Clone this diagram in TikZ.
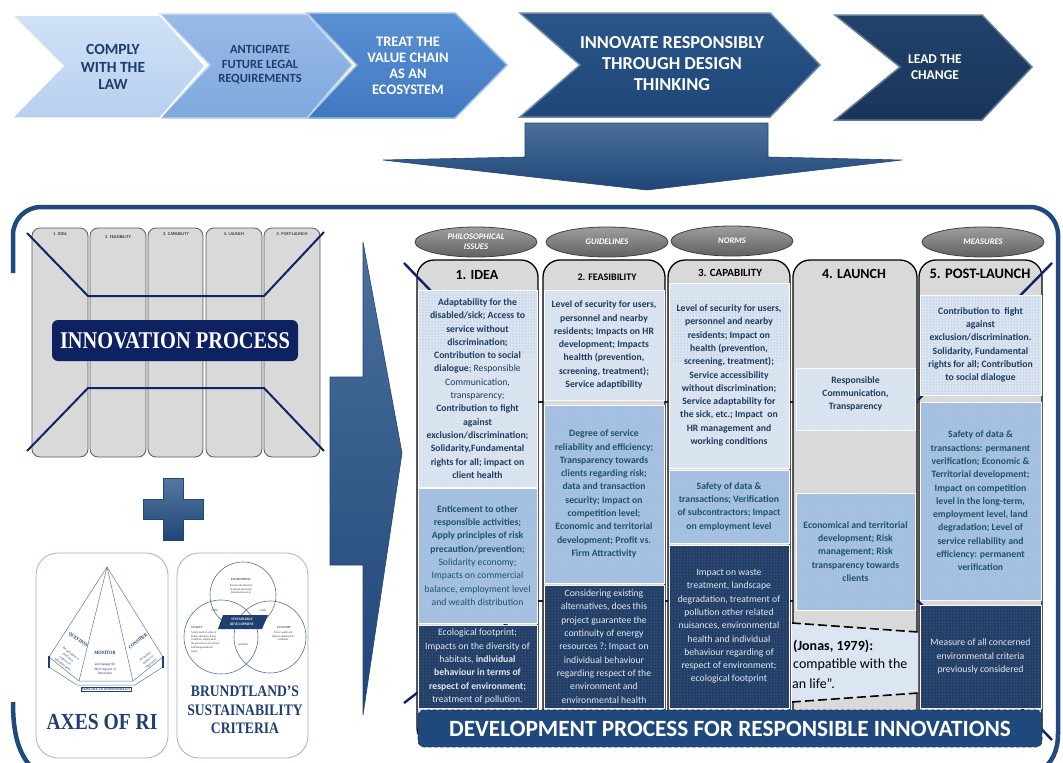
\documentclass[tikz,border=0pt]{standalone}
\usepackage{fontspec}
\setmainfont{Carlito}
\newfontfamily\tnr{Liberation Serif}[FakeStretch=0.85]
\usetikzlibrary{shapes.geometric,patterns}
\definecolor{framec}{HTML}{1F4A7E}
\definecolor{chA}{HTML}{CFE1F6}
\definecolor{chAb}{HTML}{B7D0EE}
\definecolor{chB}{HTML}{98BBE7}
\definecolor{chBb}{HTML}{7FA8DE}
\definecolor{chC}{HTML}{5A90D3}
\definecolor{chCb}{HTML}{4179C1}
\definecolor{chD}{HTML}{2A5689}
\definecolor{chDb}{HTML}{1F4677}
\definecolor{chE}{HTML}{22426C}
\definecolor{chEb}{HTML}{1A3558}
\definecolor{chtxt}{HTML}{1F3D6B}
\definecolor{ipnavy}{HTML}{0E2160}
\definecolor{xnavy}{HTML}{0E2466}
\definecolor{colgray}{HTML}{D9D9D9}
\definecolor{lightfill}{HTML}{DBE5F1}
\definecolor{lightdot}{HTML}{BFCFE4}
\definecolor{lightdot2}{HTML}{9DB3D2}
\definecolor{medfill}{HTML}{A2BEE0}
\definecolor{meddot}{HTML}{CADAEE}
\definecolor{darkfill}{HTML}{223E66}
\definecolor{darkdot}{HTML}{6F87AA}
\definecolor{lighttxt}{HTML}{1F3B5E}
\definecolor{medtxt}{HTML}{1D5565}
\definecolor{darktxt}{HTML}{E3E8F0}
\definecolor{bannerc}{HTML}{1F497D}
\definecolor{rinavy}{HTML}{1F3F73}
\definecolor{thinline}{HTML}{9FB0CC}
\definecolor{callfill}{HTML}{DCE6F2}
\newcommand\cf{\fontsize{9.7}{13.3}\selectfont}
\newcommand\bx[8]{\path[#2] (#4,#5) rectangle (#6,#7); \node[#3] (#1) at ({(#4+#6)/2},{(#5+#7)/2}) {#8};}
\tikzset{
  frame/.style={draw=framec, line width=4.5pt},
  chev/.style={line width=1.5pt, line join=miter},
  chtext/.style={align=center, font=\bfseries, inner sep=0pt},
  colshape/.style={fill=colgray, draw=black, line width=1.3pt, rounded corners=17pt},
  smallcol/.style={fill=colgray, draw=black!65, line width=0.8pt, rounded corners=8pt},
  xline/.style={draw=xnavy, line width=2.4pt},
  lbox/.style={fill=lightfill, draw=white, line width=0.8pt, postaction={pattern=dots, pattern color=lightdot}},
  mbox/.style={fill=medfill, draw=white, line width=0.8pt, postaction={pattern=dots, pattern color=meddot}},
  dbox/.style={fill=darkfill, draw=white, line width=0.8pt, postaction={pattern=dots, pattern color=darkdot}},
  overdots/.style={pattern=dots, pattern color=lightdot2},
  ltxt/.style={align=center, font=\cf, text=lighttxt, inner sep=0pt},
  mtxt/.style={align=center, font=\cf\bfseries, text=medtxt, inner sep=0pt},
  dtxt/.style={align=center, font=\cf, text=darktxt, inner sep=0pt},
  oval/.style={ellipse, minimum width=122pt, minimum height=30pt, top color=black!38, bottom color=black!62, draw=black!75, line width=0.8pt, text=white, align=center, font=\fontsize{8.6}{10}\selectfont\bfseries\itshape, inner sep=0pt},
  hdr/.style={font=\bfseries, text=black, inner sep=0pt},
  tiny/.style={font=\fontsize{4.4}{5}\selectfont\bfseries, text=black!75, inner sep=0pt},
  ttxt/.style={align=center, inner sep=0pt, text=rinavy},
  bigarrow/.style={top color=chD!85!white, bottom color=chDb, draw=chDb, line width=0.6pt}
}
\begin{document}
\begin{tikzpicture}[x=1pt,y=-1pt]
\useasboundingbox (0,0) rectangle (1063,763);
\fill[white] (0,0) rectangle (1063,763);

% ---------- big frame ----------
\draw[frame, rounded corners=28pt] (13,273) -- (13,207) -- (1058,207) -- (1058,734);
\draw[frame] (1058,733) .. controls (1058,752) and (1052,762) .. (1040,772);
\draw[frame] (13,702) .. controls (13,738) and (20,756) .. (34,770);

% ---------- top chevrons ----------
\path[chev, top color=chE, bottom color=chEb, draw=chE!70!white] (835,15) -- (982,15) -- (1032,67) -- (982,120) -- (835,120) -- (900,67) -- cycle;
\path[chev, top color=chD, bottom color=chDb, draw=chD!70!white] (520,13) -- (770,13) -- (820,65) -- (770,117) -- (520,117) -- (580,65) -- cycle;
\path[chev, top color=chC, bottom color=chCb, draw=chC!60!white] (307,13) -- (455,13) -- (507,65) -- (455,118) -- (307,118) -- (357,65) -- cycle;
\path[chev, top color=chB, bottom color=chBb, draw=chB!60!white] (160,14) -- (307,14) -- (352,65) -- (307,118) -- (160,118) -- (210,65) -- cycle;
\path[chev, top color=chA, bottom color=chAb, draw=white] (12,15) -- (160,15) -- (205,66) -- (160,118) -- (12,118) -- (63,66) -- cycle;

\node[chtext, text=chtxt, font=\fontsize{15.5}{17.5}\selectfont\bfseries] (c1) at (113,67) {COMPLY\\WITH THE\\LAW};
\node[chtext, text=chtxt, font=\fontsize{12.5}{14.5}\selectfont\bfseries] (c2) at (260,65) {ANTICIPATE\\FUTURE LEGAL\\REQUIREMENTS};
\node[chtext, text=white, font=\fontsize{14.5}{16}\selectfont\bfseries] (c3) at (408,65.5) {TREAT THE\\VALUE CHAIN\\AS AN\\ECOSYSTEM};
\node[chtext, text=white, font=\fontsize{18.3}{21}\selectfont\bfseries] (c4) at (672,64) {INNOVATE RESPONSIBLY\\THROUGH DESIGN\\THINKING};
\node[chtext, text=white, font=\fontsize{13.5}{16}\selectfont\bfseries] (c5) at (935,67.5) {LEAD THE\\CHANGE};

% down arrow
\path[bigarrow] (525,123) -- (768,123) -- (768,157) -- (902,160) -- (647,190) -- (383,160) -- (525,157) -- cycle;

% ---------- left innovation process ----------
\foreach \a/\b in {32/88,90/146,148/203,206/262,264/320}{
  \path[smallcol] (\a,228) rectangle (\b,457);
}
\node[tiny] (s1) at (60,234) {1. IDEA};
\node[tiny] (s2) at (118,237) {2. FEASIBILITY};
\node[tiny] (s3) at (176,234) {3. CAPABILITY};
\node[tiny] (s4) at (234,234) {4. LAUNCH};
\node[tiny] (s5) at (292,234) {5. POST-LAUNCH};
\draw[xline, line width=2pt] (27,233) -- (88,296) -- (264,296) -- (324,232);
\draw[xline, line width=2pt] (27,451) -- (88,388) -- (264,388) -- (324,451);
\node[fill=ipnavy, rounded corners=6pt, minimum width=246pt, minimum height=41pt, inner sep=0pt, text=white, font=\tnr\bfseries\fontsize{24}{26}\selectfont] (ip) at (175,340.5) {INNOVATION PROCESS};

% plus sign
\path[top color=chD!80!white, bottom color=chDb, draw=chDb, line width=0.6pt]
  (163,478) -- (183,478) -- (183,499) -- (203,499) -- (203,519) -- (183,519) -- (183,540) -- (163,540) -- (163,519) -- (143,519) -- (143,499) -- (163,499) -- cycle;

% ---------- bottom-left boxes ----------
\draw[thinline, line width=0.8pt, fill=white, rounded corners=22pt] (36,553) rectangle (168,758);
\draw[thinline, line width=0.8pt, fill=white, rounded corners=22pt] (177,553) rectangle (308,758);

% pyramid
\begin{scope}[draw=rinavy!70, line width=0.5pt]
\draw (107,567) -- (49,657);
\draw (107,567) -- (79,681);
\draw (107,567) -- (133,681);
\draw (107,567) -- (163,657);
\draw (49,657) -- (79,681) -- (133,681) -- (163,657);
\draw (49,667) -- (77,685) -- (135,685) -- (163,667);
\end{scope}
\draw[rinavy, line width=1.4pt] (49,656) -- (49,668);
\draw[rinavy, line width=1.4pt] (163,656) -- (163,668);
\node[ttxt, rotate=-37, font=\tnr\bfseries\fontsize{5}{6}\selectfont] (pq) at (78,640) {QUESTION};
\node[ttxt, rotate=-37, font=\tnr\fontsize{3.5}{4.6}\selectfont] (pqt) at (67,659) {the usefulness to\\develop in\\response to\\individual needs};
\node[ttxt, font=\tnr\bfseries\fontsize{5}{6}\selectfont] (pm) at (105,653) {MONITOR};
\node[ttxt, font=\tnr\fontsize{3.8}{4.6}\selectfont] (pmt) at (105,669) {and manage the\\direct impacts of\\innovation};
\node[ttxt, rotate=37, font=\tnr\bfseries\fontsize{5}{6}\selectfont] (pc) at (138,641) {CONSIDER};
\node[ttxt, rotate=37, font=\tnr\fontsize{3.5}{4.6}\selectfont] (pct) at (148,660) {the indirect\\impacts of\\innovation};
\node[ttxt, draw=rinavy, line width=0.4pt, inner sep=0.8pt, font=\tnr\bfseries\fontsize{3.6}{4}\selectfont] (pr) at (106,689) {PRINCIPLE OF RESPONSIBILITY};
\node[ttxt, font=\tnr\bfseries\fontsize{23}{25}\selectfont] (axes) at (102,722) {AXES OF RI};

% Venn
\begin{scope}[draw=rinavy!75, line width=0.6pt]
\draw (243,595) circle[radius=33pt];
\draw (221,637) circle[radius=37pt];
\draw (270,637) circle[radius=36pt];
\end{scope}
\fill[rinavy] (223,615) -- (268,615) -- (262,629) -- (218,629) -- cycle;
\node[ttxt, text=white, font=\tnr\bfseries\fontsize{3.6}{4.4}\selectfont] (sd) at (242,622) {SUSTAINABLE\\DEVELOPMENT};
\node[ttxt, font=\tnr\bfseries\fontsize{3}{3.6}\selectfont] (env) at (241,580) {ENVIRONMENT};
\node[ttxt, text=black!80, font=\tnr\fontsize{3}{3.8}\selectfont] (envt) at (241,589) {Preserve the diversity\\of species and energy\\\& natural resources};
\node[ttxt, font=\tnr\itshape\fontsize{3.2}{3.8}\selectfont] (liv) at (215,610) {livable};
\node[ttxt, font=\tnr\itshape\fontsize{3.2}{3.8}\selectfont] (via) at (263,610) {viable};
\node[ttxt, font=\tnr\itshape\fontsize{3.2}{3.8}\selectfont] (equ) at (243,645) {equitable};
\node[ttxt, anchor=west, font=\tnr\bfseries\fontsize{3}{3.6}\selectfont] (soc) at (191,628) {SOCIETY};
\node[ttxt, anchor=north west, align=left, text=black!80, font=\tnr\fontsize{3}{3.8}\selectfont] (soct) at (191,631) {Satisfy needs in terms of\\health, education, living\\conditions, employment,\\the prevention of exclusion\\and intergenerational\\equity};
\node[ttxt, font=\tnr\bfseries\fontsize{3}{3.6}\selectfont] (eco) at (284,628) {ECONOMY};
\node[ttxt, text=black!80, font=\tnr\fontsize{3}{3.8}\selectfont] (ecot) at (283,636) {Create wealth and\\improve material life\\conditions};
\node[ttxt, font=\tnr\bfseries\fontsize{16}{18.5}\selectfont] (brt) at (245,710) {BRUNDTLAND’S\\SUSTAINABILITY\\CRITERIA};

% ---------- big right arrow ----------
\path[bigarrow] (330,377) -- (363,377) -- (363,242) -- (402,453) -- (363,715) -- (363,565) -- (330,565) -- cycle;

% ---------- main columns ----------
\draw[xline] (536,402) -- (918,402);
\draw[xline] (536,601) -- (918,601);
\foreach \a/\b in {417/538,543/665,668/790,793/917,919/1042}{
  \path[colshape] (\a,745) -- (\a,260) -- (\b,260) -- (\b,745) -- cycle;
}
\draw[xline] (404,263) -- (536,400);
\draw[xline] (1052,263) -- (918,400);
\draw[xline] (404,703) -- (536,601);
\draw[xline] (1052,740) -- (918,601);

\node[oval] (o1) at (476,242) {PHILOSOPHICAL\\ISSUES};
\node[oval] (o2) at (607,242) {GUIDELINES};
\node[oval] (o3) at (732,241) {NORMS};
\node[oval] (o5) at (983,242) {MEASURES};

\node[hdr, font=\fontsize{14}{16}\selectfont\bfseries] (h1) at (477,275) {1. IDEA};
\node[hdr, font=\fontsize{10}{12}\selectfont\bfseries] (h2) at (607,277) {2. FEASIBILITY};
\node[hdr, font=\fontsize{11}{13}\selectfont\bfseries] (h3) at (730,273) {3. CAPABILITY};
\node[hdr, font=\fontsize{14}{16}\selectfont\bfseries] (h4) at (854,274) {4. LAUNCH};
\node[hdr, font=\fontsize{14.5}{16}\selectfont\bfseries] (h5) at (980,274) {5. POST-LAUNCH};

% column 4 boxes and callout
\path[lbox] (796,368) rectangle (915,430);
\node[ltxt, font=\cf\bfseries] (b4l) at (855.5,394) {Responsible\\Communication,\\Transparency};
\bx{b4m}{mbox}{mtxt}{796}{493}{915}{610}{Economical and territorial\\development; Risk\\management; Risk\\transparency towards\\clients}
\fill[callfill] (792,623) -- (918,632) -- (918,693) -- (792,702) -- cycle;
\draw[black, line width=1.6pt, dash pattern=on 9pt off 4pt] (792,623) -- (918,632);
\draw[black, line width=1.6pt, dash pattern=on 9pt off 4pt] (792,702) -- (918,693);
\node[anchor=west, inner sep=0pt, font=\fontsize{14}{16}\selectfont\bfseries] (jo1) at (793,646) {(Jonas, 1979):};
\node[anchor=west, inner sep=0pt, font=\fontsize{14}{16}\selectfont] (jo2) at (793,665) {compatible with the};
\node[anchor=west, inner sep=0pt, font=\fontsize{14}{16}\selectfont] (jo3) at (792,684) {an life”.};

% column 1
\path[lbox] (418,290) rectangle (537,487);
\path[overdots] (419,291) rectangle (536,352);
\node[ltxt] (b1l) at (477.5,388.5) {\textbf{Adaptability for the}\\\textbf{disabled/sick; Access to}\\\textbf{service without}\\\textbf{discrimination;}\\\textbf{Contribution to social}\\\textbf{dialogue}; Responsible\\Communication,\\transparency;\\\textbf{Contribution to fight}\\\textbf{against}\\\textbf{exclusion/discrimination;}\\\textbf{Solidarity,Fundamental}\\\textbf{rights for all; impact on}\\\textbf{client health}};
\bx{b1m}{mbox}{mtxt}{418}{488}{537}{623}{Enticement to other\\responsible activities;\\Apply principles of risk\\precaution/prevention;\\\mdseries Solidarity economy;\\\mdseries Impacts on commercial\\\mdseries balance, employment level\\\mdseries and wealth distribution}
\bx{b1d}{dbox}{dtxt}{418}{625}{537}{708}{Ecological footprint;\\Impacts on the diversity of\\habitats, \textbf{individual}\\\textbf{behaviour in terms of}\\\textbf{respect of environment;}\\treatment of pollution.}

% column 2
\bx{b2l}{lbox}{ltxt, font=\cf\bfseries}{544}{290}{664}{400}{Level of security for users,\\personnel and nearby\\residents; Impacts on HR\\development; Impacts\\healtth (prevention,\\screening, treatment);\\Service adaptibility}
\bx{b2m}{mbox}{mtxt}{544}{405}{664}{583}{Degree of service\\reliability and efficiency;\\Transparency towards\\clients regarding risk;\\data and transaction\\security; Impact on\\competition level;\\Economic and territorial\\development; Profit vs.\\Firm Attractivity}
\bx{b2d}{dbox}{dtxt}{544}{585}{664}{708}{Considering existing\\alternatives, does this\\project guarantee the\\continuity of energy\\resources ?; Impact on\\individual behaviour\\regarding respect of the\\environment and\\environmental health}

% column 3
\path[lbox] (669,283) rectangle (789,468);
\path[overdots] (670,300) rectangle (788,362);
\node[ltxt, font=\cf\bfseries] (b3l) at (729,375.5) {Level of security for users,\\personnel and nearby\\residents; Impact on\\health (prevention,\\screening, treatment);\\Service accessibility\\without discrimination;\\Service adaptability for\\the sick, etc.; Impact\ \ on\\HR management and\\working conditions};
\bx{b3m}{mbox}{mtxt}{669}{470}{789}{543}{Safety of data \&\\transactions; Verification\\of subcontractors; Impact\\on employment level}
\bx{b3d}{dbox}{dtxt}{669}{545}{789}{708}{Impact on waste\\treatment, landscape\\degradation, treatment of\\pollution other related\\nuisances, environmental\\health and individual\\behaviour regarding of\\respect of environment;\\ecological footprint}

% column 5
\path[lbox] (920,295) rectangle (1041,395);
\path[overdots] (921,296) rectangle (1040,394);
\node[ltxt, font=\cf\bfseries] (b5l) at (980.5,345) {Contribution to\ \ fight\\against\\exclusion/discrimination.\\Solidarity, Fundamental\\rights for all; Contribution\\to social dialogue};
\bx{b5m}{mbox}{mtxt}{920}{402}{1041}{600}{Safety of data \&\\transactions: permanent\\verification; Economic \&\\Territorial development;\\Impact on competition\\level in the long-term,\\employment level, land\\degradation; Level of\\service reliability and\\efficiency: permanent\\verification}
\bx{b5d}{dbox}{dtxt}{920}{605}{1041}{708}{Measure of all concerned\\environmental criteria\\previously considered}

% banner
\node[fill=bannerc, draw=framec!70!black, dashed, line width=0.6pt, rounded corners=6pt, minimum width=624pt, minimum height=37pt, inner sep=0pt, text=white, font=\fontsize{23.3}{25}\selectfont\bfseries] (banner) at (730,728.5) {DEVELOPMENT PROCESS FOR RESPONSIBLE INNOVATIONS};
\end{tikzpicture}
\end{document}
